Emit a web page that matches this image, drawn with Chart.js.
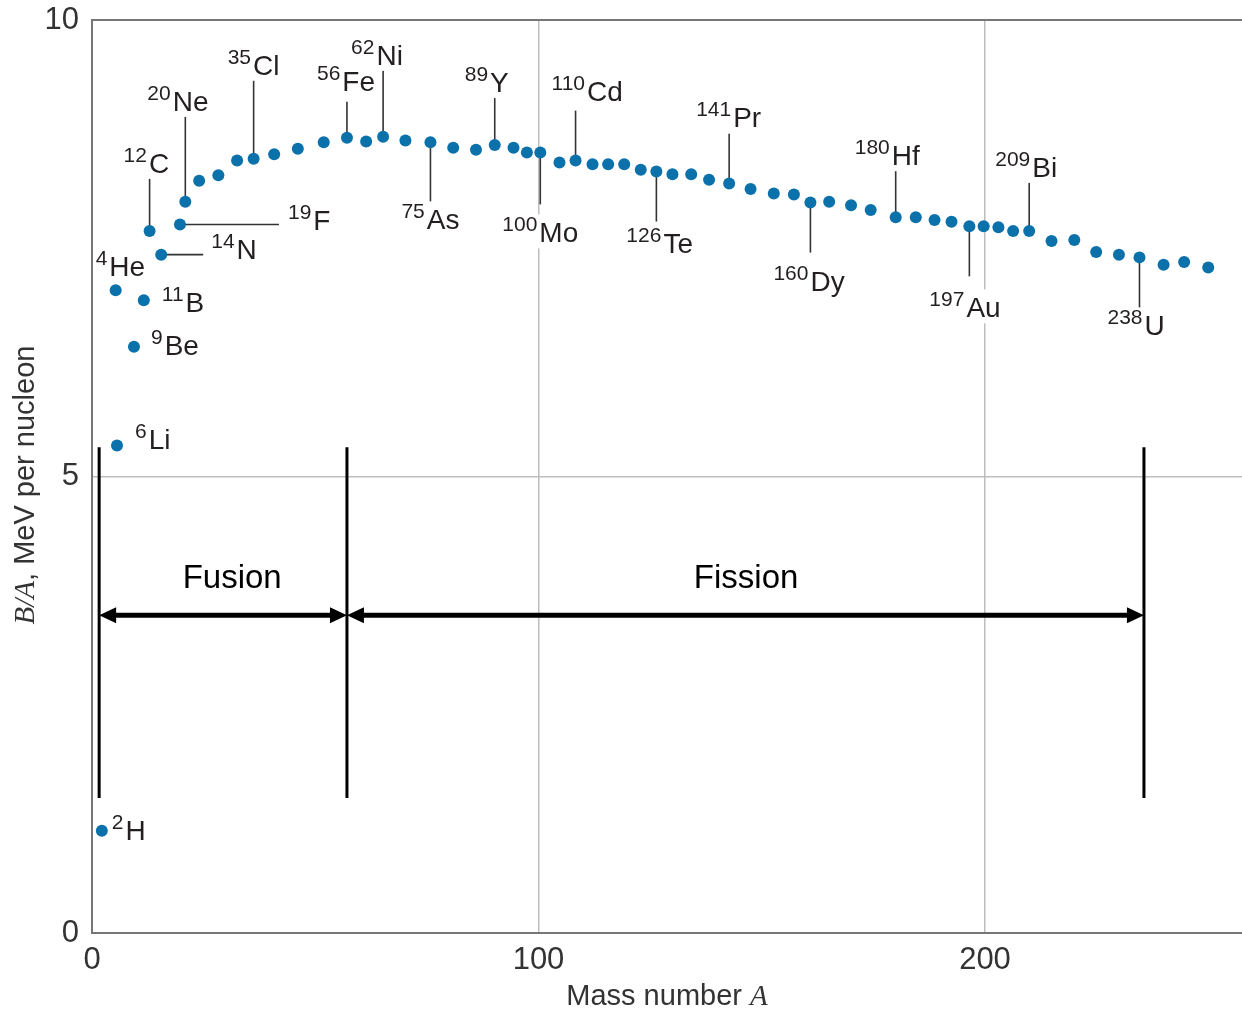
<!DOCTYPE html>
<html>
<head>
<meta charset="utf-8">
<script src="https://cdn.jsdelivr.net/npm/chart.js@4.4.1/dist/chart.umd.min.js"></script>
<style>
  body { margin: 0; background: #fff; }
  canvas { display: block; }
</style>
</head>
<body>
<canvas id="chart" width="1242" height="1012"></canvas>
<script>
// binding energy per nucleon
const massNumbers = [
  2.2, 5.6, 5.3, 9.4, 11.6, 12.9, 15.5, 19.7, 20.9, 24.0,
  28.3, 32.5, 36.2, 40.8, 46.1, 51.9, 57.1, 61.4, 65.2, 70.2,
  75.8, 80.9, 86.0, 90.2, 94.4, 97.4, 100.4, 104.7, 108.3, 112.1,
  115.6, 119.2, 122.9, 126.4, 130.0, 134.2, 138.2, 142.7, 147.5, 152.7,
  157.2, 160.9, 165.1, 170.0, 174.4, 180.0, 184.5, 188.7, 192.5, 196.5,
  199.7, 203.0, 206.3, 209.9, 214.9, 220.0, 224.9, 230.0, 234.6, 240.0,
  244.6, 250.0
];
const bindingEnergy = [
  1.12, 5.34, 7.04, 6.42, 6.93, 7.69, 7.43, 7.76, 8.01, 8.24,
  8.30, 8.46, 8.48, 8.53, 8.59, 8.66, 8.71, 8.67, 8.72, 8.68,
  8.66, 8.60, 8.58, 8.63, 8.60, 8.55, 8.55, 8.44, 8.46, 8.42,
  8.42, 8.42, 8.36, 8.34, 8.31, 8.31, 8.25, 8.21, 8.15, 8.10,
  8.09, 8.00, 8.01, 7.97, 7.92, 7.84, 7.84, 7.81, 7.79, 7.74,
  7.74, 7.73, 7.69, 7.69, 7.58, 7.59, 7.46, 7.43, 7.40, 7.32,
  7.35, 7.29
];

const xTickValues = [0, 100, 200];
const yTickValues = [0, 5, 10];

// labelled nuclides (index into the arrays above)
const labelIndex  = [0, 1, 2, 3, 4, 5, 6, 7, 8, 12, 16, 18, 20, 23, 26, 28, 33, 37, 41, 45, 49, 53, 58];
const labelMass   = ['2', '6', '4', '9', '11', '12', '14', '19', '20', '35', '56', '62', '75', '89', '100', '110', '126', '141', '160', '180', '197', '209', '238'];
const labelSymbol = ['H', 'Li', 'He', 'Be', 'B', 'C', 'N', 'F', 'Ne', 'Cl', 'Fe', 'Ni', 'As', 'Y', 'Mo', 'Cd', 'Te', 'Pr', 'Dy', 'Hf', 'Au', 'Bi', 'U'];

// fusion / fission ranges
const regionEdges = [1.6, 57.1, 235.6];
const regionNames = ['Fusion', 'Fission'];

// label placement in pixels from the dot: text dx, baseline dy, leader kind, leader end
const labelLayout = [
  [10, 9, null, 0],
  [18, 4, null, 0],
  [-20, -14, null, 0],
  [17, 8, null, 0],
  [18, 12, null, 0],
  [-26, -58, 'v', -55],
  [50, 4, 'h', 42],
  [108, 5, 'h', 99],
  [-38, -91, 'v', -85],
  [-26, -84, 'v', -79],
  [-30, -47, 'v', -36],
  [-32, -72, 'v', -69],
  [-29, 87, 'v', 60],
  [-30, -53, 'v', -50],
  [-38, 90, 'v', 52],
  [-24, -60, 'v', -50],
  [-30, 81, 'v', 50],
  [-33, -56, 'v', -50],
  [-37, 88, 'v', 50],
  [-41, -52, 'v', -50],
  [-40, 91, 'v', 50],
  [-34, -54, 'v', -50],
  [-32, 78, 'v', 51]
];
const regionTop = 5.32, regionBottom = 1.48, arrowLevel = 3.48;
const regionLabelAt = [31.4, 146.5], regionLabelLevel = 3.78;

const SANS = '"Liberation Sans", Arial, sans-serif';
const SERIF = '"Liberation Serif", "Times New Roman", serif';
const textColor = '#231f20';
const frameColor = '#777';
const gridColor = '#bdbdbd';

function drawArrow(ctx, x1, x2, yy) {
  const head = 17, half = 8;
  ctx.lineWidth = 5;
  ctx.beginPath();
  ctx.moveTo(x1 + head - 2, yy);
  ctx.lineTo(x2 - head + 2, yy);
  ctx.stroke();
  ctx.beginPath();
  ctx.moveTo(x1, yy);
  ctx.lineTo(x1 + head, yy - half);
  ctx.lineTo(x1 + head, yy + half);
  ctx.closePath();
  ctx.fill();
  ctx.beginPath();
  ctx.moveTo(x2, yy);
  ctx.lineTo(x2 - head, yy - half);
  ctx.lineTo(x2 - head, yy + half);
  ctx.closePath();
  ctx.fill();
}

const annotate = {
  id: 'annotate',
  beforeDatasetsDraw(chart) {
    const { ctx, scales: { x, y } } = chart;
    ctx.save();
    ctx.strokeStyle = '#333';
    ctx.lineWidth = 1.6;
    labelIndex.forEach((idx, i) => {
      const [, , kind, end] = labelLayout[i];
      if (!kind) return;
      const px = x.getPixelForValue(massNumbers[idx]);
      const py = y.getPixelForValue(bindingEnergy[idx]);
      ctx.beginPath();
      ctx.moveTo(px, py);
      if (kind === 'v') ctx.lineTo(px, py + end);
      else ctx.lineTo(px + end, py);
      ctx.stroke();
    });
    ctx.restore();
  },
  afterDatasetsDraw(chart) {
    const { ctx, scales: { x, y } } = chart;
    const supFont = '21px ' + SANS;
    const mainFont = '28px ' + SANS;
    ctx.save();
    ctx.textBaseline = 'alphabetic';
    ctx.textAlign = 'left';
    labelIndex.forEach((idx, i) => {
      const [dx, dy] = labelLayout[i];
      const tx = x.getPixelForValue(massNumbers[idx]) + dx;
      const by = y.getPixelForValue(bindingEnergy[idx]) + dy;
      ctx.font = supFont;
      const sw = ctx.measureText(labelMass[i]).width;
      ctx.font = mainFont;
      const mw = ctx.measureText(labelSymbol[i]).width;
      ctx.fillStyle = '#fff';
      ctx.fillRect(tx - 1, by - 28, sw + mw + 5, 34);
      ctx.fillStyle = textColor;
      ctx.font = supFont;
      ctx.fillText(labelMass[i], tx, by - 11);
      ctx.font = mainFont;
      ctx.fillText(labelSymbol[i], tx + sw + 2, by);
    });

    // fusion / fission markers
    ctx.strokeStyle = '#000';
    ctx.fillStyle = '#000';
    ctx.lineWidth = 3;
    const top = y.getPixelForValue(regionTop);
    const bottom = y.getPixelForValue(regionBottom);
    const edges = regionEdges.map(v => x.getPixelForValue(v));
    edges.forEach(px => {
      ctx.beginPath();
      ctx.moveTo(px, top);
      ctx.lineTo(px, bottom);
      ctx.stroke();
    });
    const ay = y.getPixelForValue(arrowLevel);
    for (let i = 0; i < edges.length - 1; i++) drawArrow(ctx, edges[i], edges[i + 1], ay);
    ctx.font = '33px ' + SANS;
    ctx.textAlign = 'center';
    regionNames.forEach((name, i) => {
      ctx.fillText(name, x.getPixelForValue(regionLabelAt[i]), y.getPixelForValue(regionLabelLevel));
    });
    ctx.restore();
  },
  afterDraw(chart) {
    const { ctx, chartArea } = chart;
    ctx.save();
    ctx.fillStyle = '#333';
    ctx.textBaseline = 'alphabetic';
    ctx.textAlign = 'left';

    // y axis title
    const ySerif = 'italic 29px ' + SERIF, ySans = '29px ' + SANS;
    ctx.font = ySerif;
    const w1 = ctx.measureText('B/A').width;
    ctx.font = ySans;
    const w2 = ctx.measureText(', MeV per nucleon').width;
    ctx.translate(34, 485);
    ctx.rotate(-Math.PI / 2);
    ctx.font = ySerif;
    ctx.fillText('B/A', -(w1 + w2) / 2, 0);
    ctx.font = ySans;
    ctx.fillText(', MeV per nucleon', -(w1 + w2) / 2 + w1, 0);
    ctx.setTransform(1, 0, 0, 1, 0, 0);

    // x axis title
    const xSans = '29px ' + SANS, xSerif = 'italic 29px ' + SERIF;
    ctx.font = xSans;
    const v1 = ctx.measureText('Mass number ').width;
    ctx.font = xSerif;
    const v2 = ctx.measureText('A').width;
    const cx = (chartArea.left + chartArea.right) / 2;
    ctx.font = xSans;
    ctx.fillText('Mass number ', cx - (v1 + v2) / 2, 1005);
    ctx.font = xSerif;
    ctx.fillText('A', cx - (v1 + v2) / 2 + v1, 1005);
    ctx.restore();
  }
};

const points = massNumbers.map((a, i) => ({ x: a, y: bindingEnergy[i] }));

new Chart(document.getElementById('chart'), {
  type: 'scatter',
  data: {
    datasets: [{
      data: points,
      pointRadius: 6,
      pointHoverRadius: 6,
      pointBackgroundColor: '#0b71ab',
      pointBorderWidth: 0
    }]
  },
  options: {
    responsive: false,
    animation: false,
    devicePixelRatio: 1,
    layout: { autoPadding: false, padding: { top: 20, right: 0, left: 0, bottom: 0 } },
    plugins: {
      legend: { display: false },
      tooltip: { enabled: false }
    },
    scales: {
      x: {
        type: 'linear',
        min: 0,
        max: 257.56,
        afterBuildTicks: s => { s.ticks = xTickValues.map(v => ({ value: v })); },
        afterFit: s => { s.height = 79; s.paddingLeft = 0; s.paddingRight = 0; },
        grid: {
          drawTicks: false,
          color: c => (c.tick && c.tick.value === 0 ? frameColor : gridColor),
          lineWidth: c => (c.tick && c.tick.value === 0 ? 2 : 1.5)
        },
        border: { display: true, color: frameColor, width: 2 },
        ticks: {
          padding: 9,
          color: '#333',
          font: { family: SANS, size: 31 },
          maxRotation: 0
        }
      },
      y: {
        min: 0,
        max: 10,
        afterBuildTicks: s => { s.ticks = yTickValues.map(v => ({ value: v })); },
        afterFit: s => { s.width = 92; s.paddingTop = 0; s.paddingBottom = 0; },
        grid: {
          drawTicks: false,
          color: c => (c.tick && c.tick.value !== 5 ? frameColor : gridColor),
          lineWidth: c => (c.tick && c.tick.value !== 5 ? 2 : 1.5)
        },
        border: { display: true, color: frameColor, width: 2 },
        ticks: {
          padding: 13,
          color: '#333',
          font: { family: SANS, size: 31 }
        }
      }
    }
  },
  plugins: [annotate]
});
</script>
</body>
</html>
